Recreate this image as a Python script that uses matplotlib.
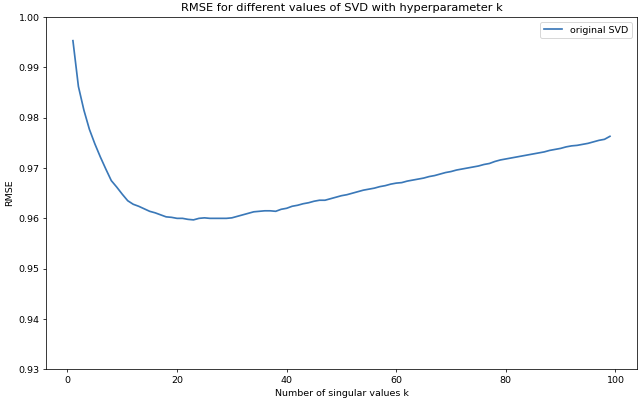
import matplotlib
matplotlib.use('Agg')
import matplotlib.pyplot as plt

# -------------------------------------------------------------------------------

# number of singular values kept
k_values = list(range(1, 100))

# RMSE
rmse_svd = [
    0.9953, 0.9862, 0.9815, 0.9777, 0.9748, 0.9722, 0.9698, 0.9675, 0.9662, 0.9648,
    0.9635, 0.9628, 0.9624, 0.9619, 0.9614, 0.9611, 0.9607, 0.9603, 0.9602, 0.9600,
    0.9600, 0.9598, 0.9597, 0.9600, 0.9601, 0.9600, 0.9600, 0.9600, 0.9600, 0.9601,
    0.9604, 0.9607, 0.9610, 0.9613, 0.9614, 0.9615, 0.9615, 0.9614, 0.9618, 0.9620,
    0.9624, 0.9626, 0.9629, 0.9631, 0.9634, 0.9636, 0.9636, 0.9639, 0.9642, 0.9645,
    0.9647, 0.9650, 0.9653, 0.9656, 0.9658, 0.9660, 0.9663, 0.9665, 0.9668, 0.9670,
    0.9671, 0.9674, 0.9676, 0.9678, 0.9680, 0.9683, 0.9685, 0.9688, 0.9691, 0.9693,
    0.9696, 0.9698, 0.9700, 0.9702, 0.9704, 0.9707, 0.9709, 0.9713, 0.9716, 0.9718,
    0.9720, 0.9722, 0.9724, 0.9726, 0.9728, 0.9730, 0.9732, 0.9735, 0.9737, 0.9739,
    0.9742, 0.9744, 0.9745, 0.9747, 0.9749, 0.9752, 0.9755, 0.9757, 0.9763,
]

# -------------------------------------------------------------------------------

def plot_rmse():
    dpi = 68
    fig, ax = plt.subplots(figsize=(640 / dpi, 405 / dpi), dpi=dpi)
    fig.subplots_adjust(left=0.072, right=0.995, top=0.958, bottom=0.088)

    ax.plot(k_values, rmse_svd, color='#3a78b8', linewidth=1.8, label='original SVD')
    ax.set_ylim(0.93, 1.00)
    ax.set_title('RMSE for different values of SVD with hyperparameter k')
    ax.set_xlabel('Number of singular values k')
    ax.set_ylabel('RMSE')
    ax.legend(loc='upper right')

    fig.savefig('out.png', dpi=dpi)

if __name__ == '__main__':
    plot_rmse()
